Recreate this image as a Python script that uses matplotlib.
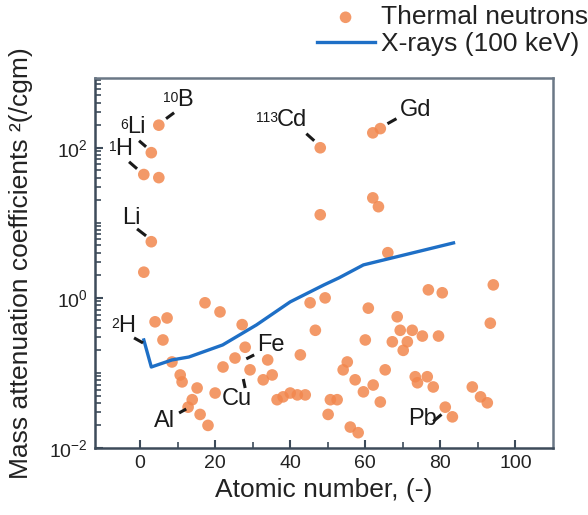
import matplotlib
matplotlib.use("Agg")
import matplotlib.pyplot as plt
from matplotlib.ticker import FixedLocator, LogLocator, NullFormatter

plt.rcParams['font.family'] = ['Liberation Sans', 'DejaVu Sans']
plt.rcParams['mathtext.fontset'] = 'custom'
plt.rcParams['mathtext.rm'] = 'Liberation Sans'
plt.rcParams['mathtext.it'] = 'Liberation Sans:italic'
plt.rcParams['mathtext.bf'] = 'Liberation Sans:bold'

# ---- data ----
neutron_z = [5, 3, 1, 5, 3, 1, 48, 48, 62, 64, 62, 63.5, 66,
             17.3, 21.3, 4, 7.2, 6.1, 27.2, 28, 25.3, 8.5, 10.7, 11.2, 22.1,
             34, 29.3, 32.8, 35.2, 42.7, 45.3, 49.3, 46.7, 15.2, 13.9, 12.8,
             16, 18.1, 20, 38.1, 40, 41.9, 44, 36.5, 50.7, 50.1,
             76.8, 80.5, 94.1, 93.3, 60.8, 68.5, 69.3, 72.5, 75.2, 79.5, 67.2,
             71.2, 70.1, 60, 55.2, 54.1, 65.3, 73.3, 76.5, 73.9, 78.1, 57.3,
             59.5, 62.1, 52.5, 64, 88.5, 90.7, 92.5, 81.3, 83.2, 56, 58.1]
neutron_mu = [200, 86, 44, 40, 5.6, 2.2, 100, 12.8, 158, 180, 21.5, 16.4, 4.0,
              0.86, 0.65, 0.48, 0.54, 0.275, 0.44, 0.22, 0.158, 0.14, 0.094, 0.076, 0.12,
              0.149, 0.11, 0.081, 0.094, 0.174, 0.86, 1.0, 0.37, 0.063, 0.044, 0.035,
              0.028, 0.020, 0.054, 0.048, 0.054, 0.051, 0.051, 0.044, 0.044, 0.028,
              1.28, 1.17, 1.49, 0.46, 0.73, 0.56, 0.37, 0.37, 0.31, 0.31, 0.26,
              0.26, 0.20, 0.275, 0.14, 0.11, 0.11, 0.089, 0.089, 0.074, 0.065, 0.081,
              0.056, 0.069, 0.044, 0.041, 0.065, 0.048, 0.040, 0.035, 0.026, 0.019, 0.016]

xray_z = [1, 3, 8.5, 13, 22, 31, 40, 49, 53, 59.5, 83.5]
xray_mu = [0.275, 0.12, 0.149, 0.163, 0.236, 0.436, 0.885, 1.49, 1.85, 2.75, 5.4]

label_main = ['B', 'Li', 'H', 'Li', 'H', 'Cd', 'Gd', 'Fe', 'Cu', 'Al', 'Pb']
label_sup = ['10', '6', '1', '', '2', '113', '', '', '', '', '']
x_ticks = [0, 20, 40, 60, 80, 100]
y_ticks = [1e-2, 1e0, 1e2]
y_ticklabels = [r'$10^{-2}$', r'$10^{0}$', r'$10^{2}$']

# ---- layout (label positions and pointer segments) ----
label_pos = [(12.0, 437), (-1.1, 190), (-4.3, 97), (-2.4, 11.7), (-3.6, 0.42),
             (40.5, 236), (73.3, 320), (34.9, 0.236), (25.9, 0.045),
             (6.4, 0.023), (75.2, 0.024)]
pointer = [((9.07, 293), (6.93, 244)), ((-0.27, 124), (1.6, 103)),
           ((-2.93, 65), (-0.8, 52.5)), ((-0.8, 8.3), (1.6, 6.7)),
           ((-1.6, 0.293), (0.8, 0.251)), ((44.3, 154), (46.4, 124)),
           ((65.9, 209), (68.3, 244)), ((28.3, 0.154), (30.4, 0.174)),
           ((27.5, 0.083), (28.0, 0.063)), ((10.4, 0.0293), (12.3, 0.0331)),
           ((78.1, 0.0226), (80.3, 0.028))]

fig = plt.figure(figsize=(5.88, 5.15), dpi=100)
ax = fig.add_axes([95/588, 1-448/515, (553-95)/588, (448-78)/515])

ax.set_yscale('log')
ax.set_xlim(-12, 110)
ax.set_ylim(1e-2, 850)

sc = ax.scatter(neutron_z, neutron_mu, s=70, color='#F2874E', alpha=0.85,
                edgecolors='none', zorder=2, label='Thermal neutrons')
ln, = ax.plot(xray_z, xray_mu, color='#1E6FC6', lw=2.4, zorder=3,
              label='X-rays (100 keV)')

txt_c = '#1a1a1a'
mains = []
for m, (tx, ty) in zip(label_main, label_pos):
    mains.append(ax.text(tx, ty, m, fontsize=17, ha='center', va='center',
                         color=txt_c, zorder=4))
for (x0, y0), (x1, y1) in pointer:
    ax.plot([x0, x1], [y0, y1], color=txt_c, lw=2.2, solid_capstyle='butt', zorder=4)

fig.canvas.draw()
renderer = fig.canvas.get_renderer()
for t, sup in zip(mains, label_sup):
    if not sup:
        continue
    bb = t.get_window_extent(renderer)
    xf, yf = fig.transFigure.inverted().transform((bb.x0 + 1, bb.y1 - 2))
    fig.text(xf, yf, sup, fontsize=10, ha='right', va='top', color=txt_c, zorder=5)

ax.xaxis.set_major_locator(FixedLocator(x_ticks))
ax.xaxis.set_minor_locator(FixedLocator([10, 30, 50, 70, 90]))
ax.yaxis.set_major_locator(FixedLocator(y_ticks))
ax.set_yticklabels(y_ticklabels)
ax.yaxis.set_minor_locator(LogLocator(base=10, subs=[1, 2, 3, 4, 5, 6, 7, 8, 9], numticks=20))
ax.yaxis.set_minor_formatter(NullFormatter())

spine_c = '#3d4b5a'
for s in ax.spines.values():
    s.set_color(spine_c)
    s.set_linewidth(1.8)
ax.spines['top'].set_color('#6b7886')
ax.spines['right'].set_color('#6b7886')

ax.tick_params(axis='both', which='major', direction='in', length=6, width=1.5,
               colors=spine_c, labelcolor='#222222', labelsize=14, pad=5)
ax.tick_params(axis='both', which='minor', direction='in', length=4, width=1.2,
               colors=spine_c)
ax.tick_params(axis='x', which='both', top=False)
ax.tick_params(axis='y', which='both', right=False)

ax.set_xlabel('Atomic number, (-)', fontsize=19, color='#222222', labelpad=4)
ax.set_ylabel('Mass attenuation coefficients \u00b2(/cgm)', fontsize=19,
              color='#222222', labelpad=12)

leg = fig.legend(handles=[sc, ln], loc='upper right', bbox_to_anchor=(1.005, 0.995),
                 frameon=False, fontsize=19, handlelength=2.2, handletextpad=0.25,
                 labelspacing=0.1, borderpad=0.1, borderaxespad=0)
for t in leg.get_texts():
    t.set_color('#222222')

fig.savefig('out.png', dpi=100)
